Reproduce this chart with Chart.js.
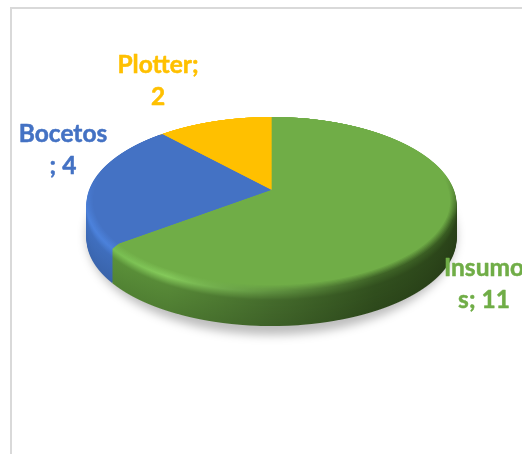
<!DOCTYPE html>
<html><head><meta charset="utf-8">
<style>
html,body{margin:0;padding:0;background:#fff;overflow:hidden}
#wrap{position:relative;width:522px;height:454px;overflow:hidden}
#frame{position:absolute;left:10px;top:7px;width:520px;height:460px;border:2px solid #d9d9d9;box-sizing:border-box}
canvas{position:absolute;left:0;top:0}
</style>
<script src="https://cdn.jsdelivr.net/npm/chart.js@4"></script>
</head><body>
<div id="wrap"><div id="frame"></div><canvas id="c" width="522" height="454"></canvas></div>
<script>
const categories = ['Insumos', 'Bocetos', 'Plotter'];
const values = [11, 4, 2];
const faceColors = ['#70AD47', '#4472C4', '#FFC000'];
const labelLines = [['Insumo', 's; 11'], ['Bocetos', '; 4'], ['Plotter;', '2']];
const labelAnchors = [[484, 276, 308], [63, 142, 174], [158, 73, 105]];
// rim shade, left -> right across the disc
const rimShades = [
  ['#5f9a3c', '#5a8e39', '#466e2d', '#33521f', '#2b4419'],
  ['#4375c9', '#3d69b4', '#375f9f', '#30548c', '#2b4a7c'],
  ['#c99700', '#bf9000', '#a67d00', '#8f6b00', '#7f5f00']
];
const bevelShades = [
  ['#6fb54a', '#84c95a', '#5f9140', '#3f6427', '#35561f'],
  ['#4c82dc', '#4a7fd6', '#4472C4', '#4472C4', '#4472C4'],
  ['#FFC000', '#FFC000', '#FFC000', '#FFC000', '#FFC000']
];
const view = {cx: 271.5, y0: 192.3, A: 183.2, B: 85.8, k: 0.14, depth: 34, bevel: 0.03, fadeTop: 175, fadeLen: 45};

function rgb(h){
  if(h[0]==='#') return [1,3,5].map(i=>parseInt(h.substr(i,2),16));
  return h.match(/\d+/g).map(Number);
}
function mix(a,b,t){const p=rgb(a),q=rgb(b);return 'rgb('+p.map((v,i)=>Math.round(v+(q[i]-v)*t)).join(',')+')';}

function makeClones(chart, colorFor, y){
  const ctx = chart.ctx, arcs = chart.getDatasetMeta(0).data;
  const scx = arcs[0].x, R = arcs[0].outerRadius;
  return arcs.map((el,i)=>{
    const c = Object.create(el);
    const g = ctx.createLinearGradient(scx-R,0,scx+R,0);
    colorFor(i,y).forEach((col,j,all)=>g.addColorStop(j/(all.length-1),col));
    c.options = Object.assign({}, el.options, {backgroundColor:g, borderWidth:0});
    return c;
  });
}

function drawWarped(chart, offY, f, colorFor, perRow){
  const ctx = chart.ctx, arcs = chart.getDatasetMeta(0).data;
  const scx = arcs[0].x, scy = arcs[0].y, R = arcs[0].outerRadius;
  const shared = perRow ? null : makeClones(chart, colorFor, 0);
  const {cx,y0,A,B,k} = view;
  const top = Math.floor(y0 - B/(1+k) + offY) - 1, bot = Math.ceil(y0 + B/(1-k) + offY) + 1;
  for(let y=top;y<bot;y++){
    const d = y + 0.5 - y0 - offY;
    const den = B + k*d;
    const v = d/den, w = 1 - k*v, dv = B/(den*den);
    const a = A/(w*R), e = 1/(R*dv);
    const sy0 = scy + R*v;
    const clones = shared || makeClones(chart, colorFor, y);
    ctx.save();
    ctx.beginPath(); ctx.rect(0,y,522,1); ctx.clip();
    ctx.setTransform(a,0,0,e, cx - scx*a, y + 0.5 - sy0*e);
    ctx.transform(f,0,0,f,(1-f)*scx,(1-f)*(scy-R));
    clones.forEach(c=>c.draw(ctx));
    ctx.restore();
  }
}

const pie3d = {
  id:'pie3d',
  beforeDatasetsDraw(chart){
    const ctx = chart.ctx;
    // soft ground shadow
    ctx.save();
    ctx.filter = 'blur(5px)';
    ctx.fillStyle = 'rgba(0,0,0,0.26)';
    ctx.beginPath();
    ctx.ellipse(view.cx, 236, 185, 99, 0, 0, Math.PI*2);
    ctx.fill();
    ctx.restore();
    // side wall, back to front
    for(let d=view.depth; d>=1; d--){
      const t = d/view.depth;
      drawWarped(chart, d, 1, i=>rimShades[i].map((c,j)=>{
        const dark = mix(c, '#000000', 0.12*t);
        return t<0.25 ? mix(bevelShades[i][j], dark, t/0.25) : dark;
      }));
    }
    // bevelled edge fading into the face, and vanishing towards the back of the disc
    const steps = 6;
    for(let s=0;s<=steps;s++){
      const t = s/steps;
      drawWarped(chart, 0, 1-view.bevel*t, (i,y)=>{
        const b = Math.min(1, Math.max(0, (y-view.fadeTop)/view.fadeLen));
        return bevelShades[i].map(c=>mix(mix(faceColors[i], c, b), faceColors[i], t));
      }, true);
    }
    return false;
  },
  afterDraw(chart){
    const ctx = chart.ctx;
    ctx.save();
    ctx.font = '700 24.5px Lato';
    ctx.textAlign = 'center';
    ctx.textBaseline = 'alphabetic';
    ctx.lineWidth = 0.5;
    ctx.lineJoin = 'round';
    labelLines.forEach((lines,i)=>{
      ctx.fillStyle = faceColors[i];
      ctx.strokeStyle = faceColors[i];
      lines.forEach((s,j)=>{
        ctx.fillText(s, labelAnchors[i][0], labelAnchors[i][j+1]);
        ctx.strokeText(s, labelAnchors[i][0], labelAnchors[i][j+1]);
      });
    });
    ctx.restore();
  }
};

new Chart(document.getElementById('c'), {
  type:'pie',
  data:{labels:categories, datasets:[{data:values, backgroundColor:faceColors, borderWidth:0}]},
  options:{
    responsive:false, animation:false,
    plugins:{legend:{display:false}, tooltip:{enabled:false}}
  },
  plugins:[pie3d]
});
</script>
</body></html>
